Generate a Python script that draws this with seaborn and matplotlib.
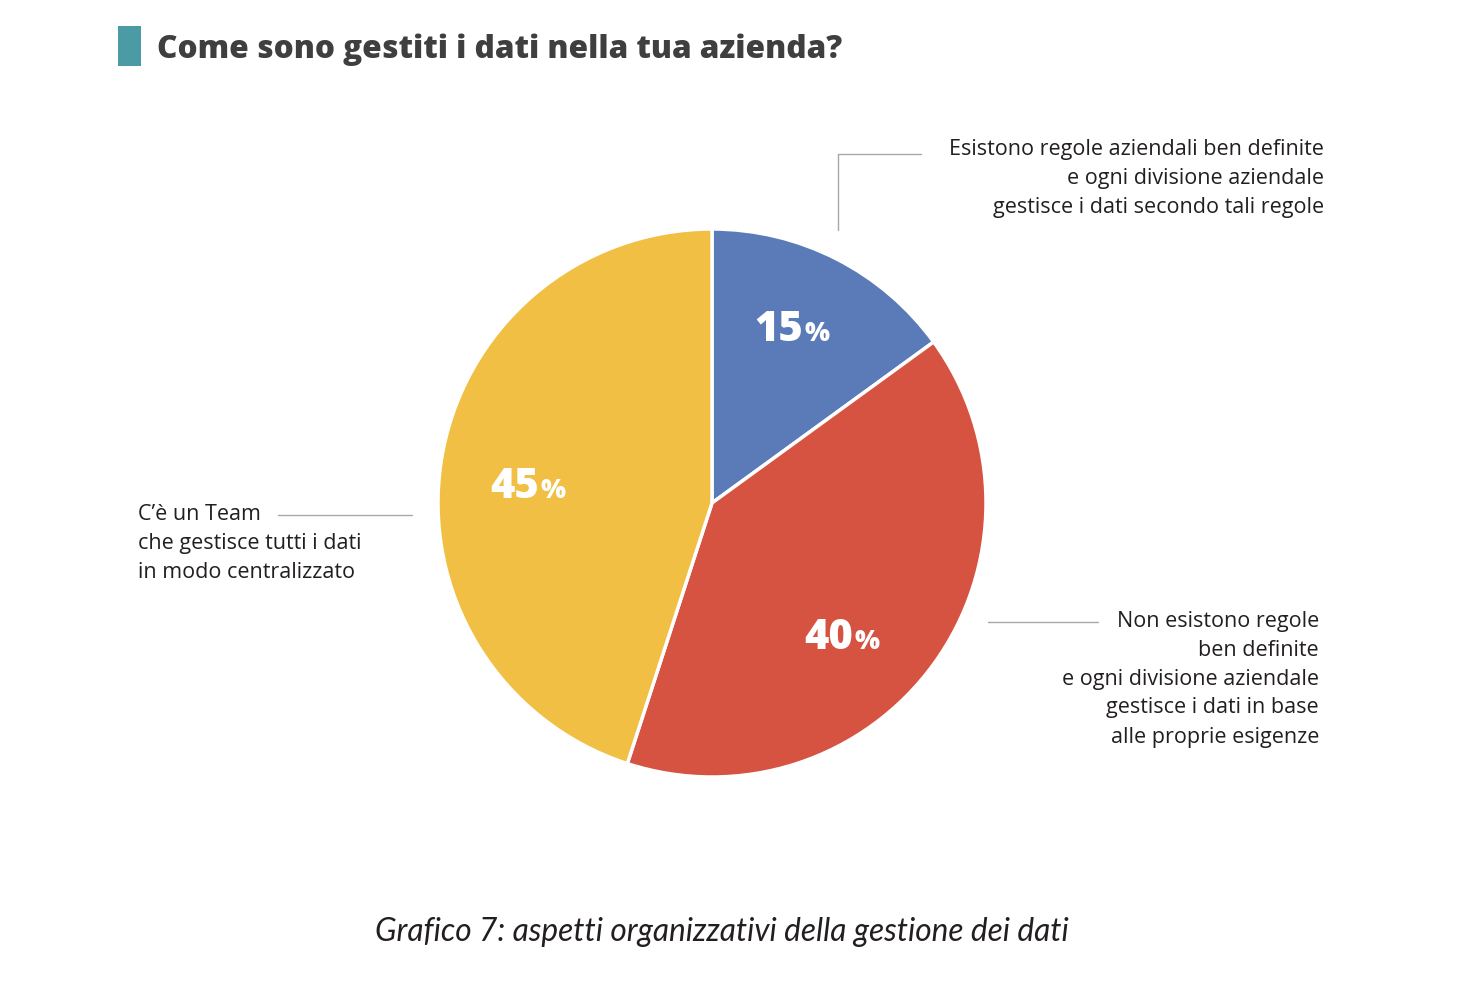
import matplotlib
matplotlib.use("Agg")
import matplotlib.pyplot as plt
import seaborn as sns

sns.set_theme(style="white")
plt.rcParams['font.family'] = ['Open Sans', 'DejaVu Sans']

# Data
categories = [
    "Esistono regole aziendali ben definite\ne ogni divisione aziendale\ngestisce i dati secondo tali regole",
    "Non esistono regole\nben definite\ne ogni divisione aziendale\ngestisce i dati in base\nalle proprie esigenze",
    "C\u2019\u00e8 un Team\nche gestisce tutti i dati\nin modo centralizzato",
]
values = [15, 40, 45]
colors = ["#5B7BB8", "#D65241", "#F0BF43"]
title = "Come sono gestiti i dati nella tua azienda?"
caption = "Grafico 7: aspetti organizzativi della gestione dei dati"

W, H = 1464, 996
fig = plt.figure(figsize=(W / 100, H / 100), dpi=100)
ax = fig.add_axes([0, 0, 1, 1])

cx, cy, r = 712, H - 503, 274
wedges, _ = ax.pie(values, colors=colors, startangle=90, counterclock=False,
                   center=(cx, cy), radius=r,
                   wedgeprops=dict(edgecolor='white', linewidth=2.5))
ax.set_xlim(0, W)
ax.set_ylim(0, H)
ax.set_aspect('equal')
ax.axis('off')

boldfam = ['Open Sans', 'DejaVu Sans']
# percentage labels
pct_pos = [(793, 330), (843, 638), (529, 487)]
for v, (px, py) in zip(values, pct_pos):
    t = ax.text(px + 10, H - py, str(v), ha='right', va='center', color='white',
                fontsize=30, fontweight='heavy', family=boldfam)
    ax.annotate('%', xy=(1, 0.1), xycoords=t, xytext=(1, 0), textcoords='offset points',
                ha='left', va='bottom', color='white', fontsize=19, fontweight='heavy',
                family=boldfam)

txtc = '#231F20'
lc = '#A8A8A8'
# top label
ax.plot([838, 838, 921], [H - 230, H - 154, H - 154], color=lc, lw=1)
ax.text(1324, H - 178, categories[0], ha='right', va='center', fontsize=15.5,
        color=txtc, linespacing=1.5)
# right label
ax.plot([988, 1098], [H - 622, H - 622], color=lc, lw=1)
ax.text(1319, H - 679, categories[1], ha='right', va='center', fontsize=15.5,
        color=txtc, linespacing=1.5)
# left label
ax.plot([278, 412], [H - 515, H - 515], color=lc, lw=1)
ax.text(138, H - 543, categories[2], ha='left', va='center', fontsize=15.5,
        color=txtc, linespacing=1.5)

# title
ax.add_patch(plt.Rectangle((118, H - 66), 23, 40, color='#4A9BA3', lw=0))
ax.text(157, H - 50, title, ha='left', va='center', fontsize=22.7, fontweight='heavy',
        color='#3F3F3F', family=boldfam)

# caption
ax.text(722, H - 932, caption, ha='center', va='center', fontsize=22.8, style='italic',
        color=txtc, family=['Lato', 'DejaVu Sans'])

fig.savefig('out.png', dpi=100)
